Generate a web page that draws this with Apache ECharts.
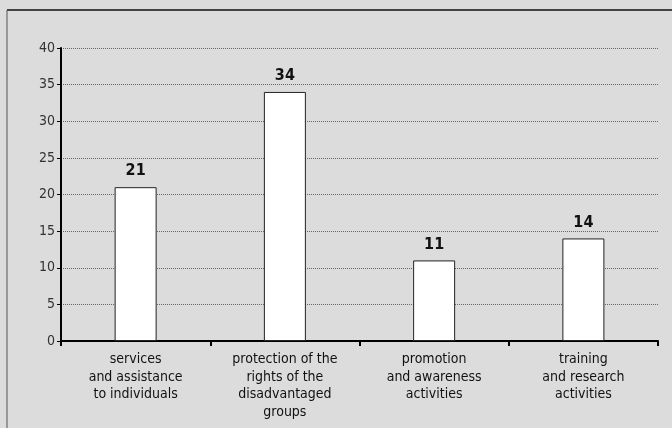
<!DOCTYPE html>
<html>
<head>
<meta charset="utf-8">
<script src="https://cdn.jsdelivr.net/npm/echarts@6/dist/echarts.min.js"></script>
<style>
  html, body { margin: 0; padding: 0; background: #dcdcdc; }
  #chart { width: 672px; height: 428px; }
</style>
</head>
<body>
<div id="chart"></div>
<script>
// Activity categories and counts
const categories = [
  'services\nand assistance\nto individuals',
  'protection of the\nrights of the\ndisadvantaged\ngroups',
  'promotion\nand awareness\nactivities',
  'training\nand research\nactivities'
];
const counts = [21, 34, 11, 14];
const yTicks = { min: 0, max: 40, interval: 5 };

const FONT = '"Liberation Sans Narrow", "DejaVu Sans Condensed", "Open Sans", sans-serif';

const chart = echarts.init(document.getElementById('chart'));
chart.setOption({
  backgroundColor: '#dcdcdc',
  animation: false,
  graphic: [
    { type: 'line', shape: { x1: 7, y1: 10, x2: 672, y2: 10 }, style: { stroke: '#111', lineWidth: 1.5 } },
    { type: 'line', shape: { x1: 7, y1: 10, x2: 7, y2: 428 }, style: { stroke: '#555', lineWidth: 1 } }
  ],
  grid: { left: 61, right: 14, top: 48, bottom: 87, containLabel: false },
  xAxis: {
    type: 'category',
    data: categories,
    axisLine: { lineStyle: { color: '#000', width: 2 } },
    axisTick: { show: true, length: 5, lineStyle: { color: '#000', width: 2 } },
    axisLabel: {
      color: '#111', fontFamily: FONT, fontSize: 14, lineHeight: 17.5,
      margin: 10, interval: 0
    },
    splitLine: { show: false }
  },
  yAxis: {
    type: 'value',
    min: yTicks.min, max: yTicks.max, interval: yTicks.interval,
    axisLine: { show: true, lineStyle: { color: '#000', width: 2 } },
    axisTick: { show: true, length: 4, lineStyle: { color: '#000' } },
    axisLabel: { color: '#333', fontFamily: FONT, fontSize: 14, margin: 6 },
    splitLine: { show: true, lineStyle: { color: '#666', type: [1, 1], width: 1 } }
  },
  series: [{
    type: 'bar',
    data: counts,
    barWidth: 42,
    itemStyle: { color: '#ffffff', borderColor: '#222', borderWidth: 1 },
    label: {
      show: true, position: 'top', distance: 8,
      color: '#111', fontFamily: FONT, fontSize: 16, fontWeight: 600
    }
  }]
});
</script>
</body>
</html>
